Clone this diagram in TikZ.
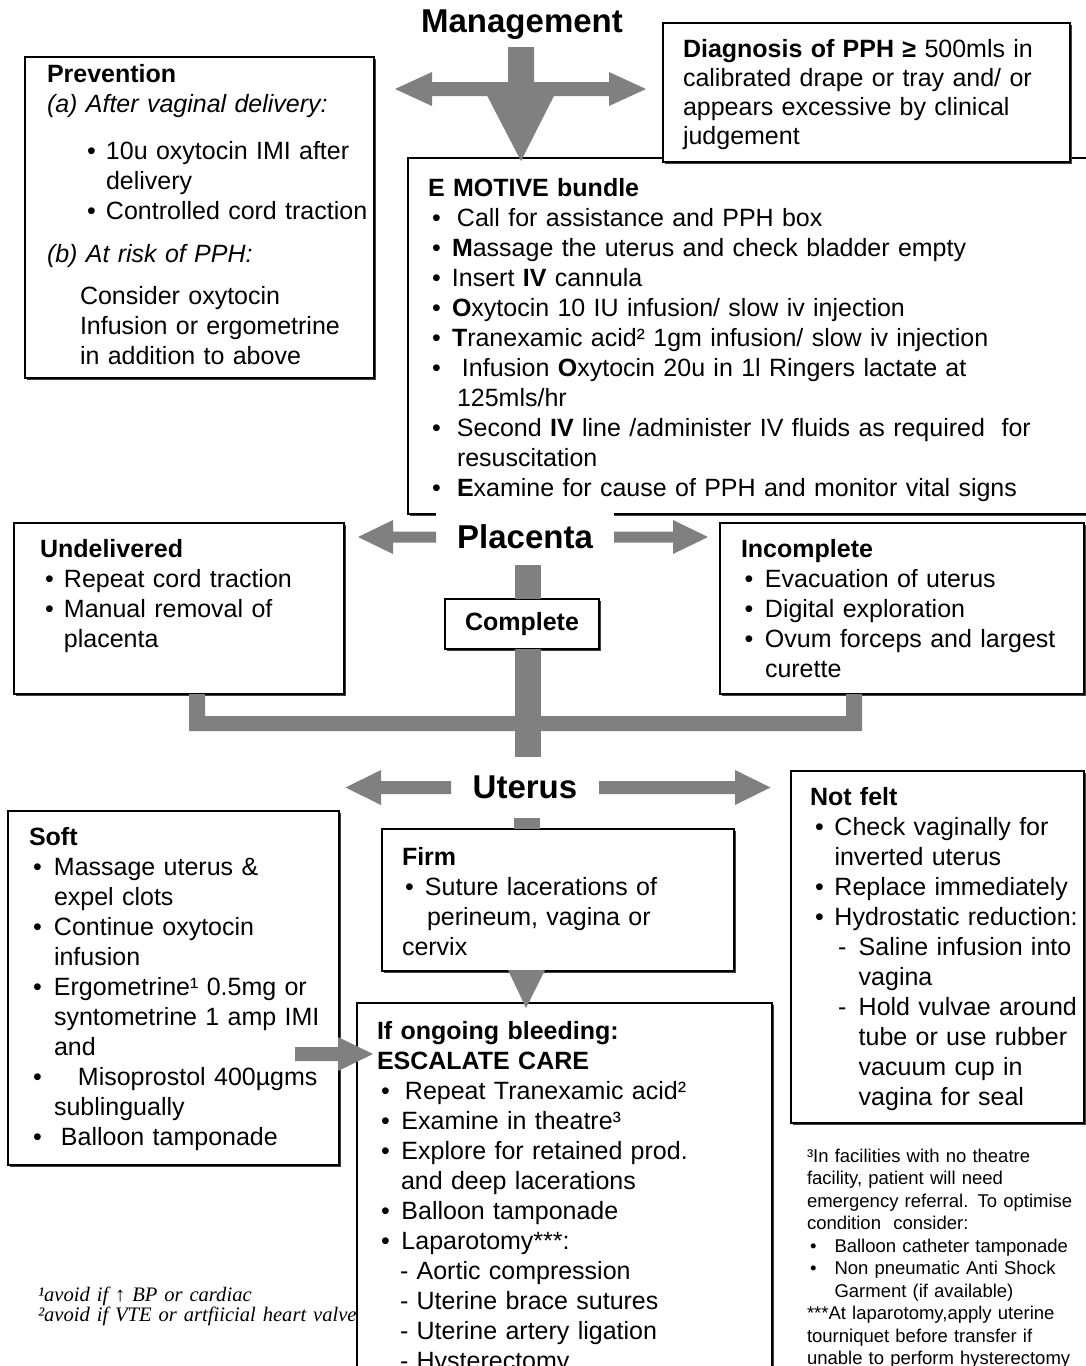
\documentclass[tikz,border=0pt]{standalone}
\usepackage{fontspec}
\setmainfont{Liberation Sans}
\newfontfamily\notefont{Liberation Serif}
\usetikzlibrary{shadows,calc}
\definecolor{arrgray}{RGB}{128,128,128}
\newcommand{\mybul}[2]{\hspace*{#1pt}\makebox[#2pt][l]{•}}
\newcommand{\myind}[1]{\hspace*{#1pt}}
\begin{document}
\begin{tikzpicture}[x=1pt,y=-1pt,
  sbox/.style={draw=black, line width=1.8pt, fill=white, inner sep=0pt, outer sep=0pt, anchor=north west,
    drop shadow={shadow xshift=2pt, shadow yshift=-2pt, fill=black!75, opacity=1}},
  txt/.style={anchor=base west, inner sep=0pt, outer sep=0pt, text width=680pt, align=left,
    font=\fontsize{25}{30}\selectfont},
  hub/.style={fill=white, inner sep=0pt, outer sep=0pt, font=\fontsize{33}{40}\selectfont\bfseries},
  arr/.style={fill=arrgray}
]
\useasboundingbox (0,0) rectangle (1086,1366);
\clip (0,0) rectangle (1086,1366);
\fill[white] (0,0) rectangle (1086,1366);

% footnotes 1,2 (partly hidden by the escalate box)
\node[txt, font=\notefont\itshape\fontsize{20.6}{20}\selectfont] (tnote12) at (38,1301)
  {¹avoid if ↑ BP or cardiac\\ ²avoid if VTE or artfiicial heart valves};

% boxes
\node[sbox, minimum width=692pt, minimum height=356pt] (emot) at (408,158) {};
\node[sbox, minimum width=407pt, minimum height=139pt] (diag) at (663,23) {};
\node[sbox, minimum width=349pt, minimum height=321pt] (prev) at (25,57) {};
\node[sbox, minimum width=330pt, minimum height=171pt] (undel) at (14,523) {};
\node[sbox, minimum width=364pt, minimum height=171pt] (incompl) at (720,523) {};
\node[sbox, anchor=center, minimum width=154pt, minimum height=50pt,
  font=\fontsize{25}{30}\selectfont\bfseries] (compl) at (522,624) {Complete};
\node[hub, minimum width=178pt, minimum height=56pt] (plac) at (525,537) {Placenta};
\node[hub, minimum width=148pt, minimum height=61pt] (uter) at (525,787.5) {Uterus};
\node[sbox, minimum width=331pt, minimum height=354pt] (soft) at (8,811) {};
\node[sbox, minimum width=352pt, minimum height=142pt] (firm) at (382,829) {};
\node[sbox, minimum width=293pt, minimum height=352pt] (notfelt) at (791,771) {};
\node[sbox, minimum width=415pt, minimum height=380pt] (escal) at (357,1003) {};

% title
\node[anchor=base, inner sep=0pt, font=\fontsize{33}{40}\selectfont\bfseries] (mgmt) at (522,32) {Management};

% texts
\node[txt] (tprev) at (47,82) {\textbf{Prevention}\\
\textit{(a) After vaginal delivery:}\\[17pt]
\mybul{40}{19}10u oxytocin IMI after\\
\myind{59}delivery\\
\mybul{40}{19}Controlled cord traction\\[13pt]
\textit{(b) At risk of PPH:}\\[12pt]
\myind{33}Consider oxytocin\\
\myind{33}Infusion or ergometrine\\
\myind{33}in addition to above};

\node[txt, font=\fontsize{25}{29}\selectfont] (tdiag) at (683,57) {\textbf{Diagnosis of PPH ≥} 500mls in\\
calibrated drape or tray and/ or\\
appears excessive by clinical\\
judgement};

\node[txt] (temot) at (428,196) {\textbf{E MOTIVE bundle}\\
\mybul{4}{25}Call for assistance and PPH box\\
\mybul{4}{20}\textbf{M}assage the uterus and check bladder empty\\
\mybul{4}{20}Insert \textbf{IV} cannula\\
\mybul{4}{20}\textbf{O}xytocin 10 IU infusion/ slow iv injection\\
\mybul{4}{20}\textbf{T}ranexamic acid² 1gm infusion/ slow iv injection\\
\mybul{4}{30}Infusion \textbf{O}xytocin 20u in 1l Ringers lactate at\\
\myind{29}125mls/hr\\
\mybul{4}{25}Second \textbf{IV} line /administer IV fluids as required~ for\\
\myind{29}resuscitation\\
\mybul{4}{25}\textbf{E}xamine for cause of PPH and monitor vital signs};

\node[txt] (tundel) at (40,557) {\textbf{Undelivered}\\
\mybul{5}{19}Repeat cord traction\\
\mybul{5}{19}Manual removal of\\
\myind{24}placenta};

\node[txt] (tincompl) at (741,557) {\textbf{Incomplete}\\
\mybul{3.5}{20.5}Evacuation of uterus\\
\mybul{3.5}{20.5}Digital exploration\\
\mybul{3.5}{20.5}Ovum forceps and largest\\
\myind{24}curette};

\node[txt] (tsoft) at (29,845) {\textbf{Soft}\\
\mybul{4}{21}Massage uterus \&\\
\myind{25}expel clots\\
\mybul{4}{21}Continue oxytocin\\
\myind{25}infusion\\
\mybul{4}{21}Ergometrine¹ 0.5mg or\\
\myind{25}syntometrine 1 amp IMI\\
\myind{25}and\\
\mybul{4}{45}Misoprostol 400µgms\\
\myind{25}sublingually\\
\mybul{4}{28}Balloon tamponade};

\node[txt] (tfirm) at (402,865) {\textbf{Firm}\\
\mybul{3}{20}Suture lacerations of\\
\myind{25}perineum, vagina or\\
cervix};

\node[txt] (tescal) at (377,1039) {\textbf{If ongoing bleeding:}\\
\textbf{ESCALATE CARE}\\
\mybul{4}{24}Repeat Tranexamic acid²\\
\mybul{4}{20.5}Examine in theatre³\\
\mybul{4}{20.5}Explore for retained prod.\\
\myind{24}and deep lacerations\\
\mybul{4}{20.5}Balloon tamponade\\
\mybul{4}{20.5}Laparotomy***:\\
\myind{23}- Aortic compression\\
\myind{23}- Uterine brace sutures\\
\myind{23}- Uterine artery ligation\\
\myind{23}- Hysterectomy};

\node[txt] (tnotfelt) at (810,805) {\textbf{Not felt}\\
\mybul{5}{19.5}Check vaginally for\\
\myind{24.5}inverted uterus\\
\mybul{5}{19.5}Replace immediately\\
\mybul{5}{19.5}Hydrostatic reduction:\\
\myind{28}\makebox[20.7pt][l]{-}Saline infusion into\\
\myind{48.7}vagina\\
\myind{28}\makebox[20.7pt][l]{-}Hold vulvae around\\
\myind{48.7}tube or use rubber\\
\myind{48.7}vacuum cup in\\
\myind{48.7}vagina for seal};

\node[txt, font=\fontsize{18.5}{22.5}\selectfont] (tnote3) at (807,1162) {³In facilities with no theatre\\
facility, patient will need\\
emergency referral. To optimise\\
condition~ consider:\\
\mybul{3}{24.5}Balloon catheter tamponade\\
\mybul{3}{24.5}Non pneumatic Anti Shock\\
\myind{27.5}Garment (if available)\\
\mbox{***}At laparotomy,apply uterine\\
tourniquet before transfer if\\
unable to perform hysterectomy};

% ---- gray block arrows ----
% Management
\fill[arr] (508,47) -- (534,47) -- (534,82) -- (561,82) -- (521,161) -- (480,82) -- (508,82) -- cycle;
\fill[arr] (395,89) -- (432,72) -- (432,82) -- (609,82) -- (609,72) -- (646,89) -- (609,106)
  -- (609,96) -- (432,96) -- (432,106) -- cycle;
% Placenta
\fill[arr] (plac.west) ++(0,5.5) -- ++(-43,0) -- ++(0,11.5) -- ++(-35,-17) -- ++(35,-17)
  -- ++(0,11.5) -- ++(43,0) -- cycle;
\fill[arr] (plac.east) ++(0,5.5) -- ++(59,0) -- ++(0,11.5) -- ++(35,-17) -- ++(-35,-17)
  -- ++(0,11.5) -- ++(-59,0) -- cycle;
\fill[arr] ([xshift=-10pt]plac.south) rectangle ([xshift=19pt]compl.north);
\fill[arr] ([xshift=-7pt]compl.south) rectangle ([xshift=16pt]uter.north);
% bracket
\fill[arr] (189,694) -- (205,694) -- (205,716) -- (846,716) -- (846,694) -- (862,694)
  -- (862,731) -- (189,731) -- cycle;
% Uterus
\fill[arr] (uter.west) ++(0,6.5) -- ++(-70,0) -- ++(0,11) -- ++(-35.5,-17.5) -- ++(35.5,-17.5)
  -- ++(0,11) -- ++(70,0) -- cycle;
\fill[arr] (uter.east) ++(0,6.5) -- ++(136,0) -- ++(0,11) -- ++(35.5,-17.5) -- ++(-35.5,-17.5)
  -- ++(0,11) -- ++(-136,0) -- cycle;
\fill[arr] ([xshift=-11pt]uter.south) rectangle ([xshift=-18pt]firm.north);
% Firm -> escalate
\coordinate (firmtip) at (526,1008);
\fill[arr] ([xshift=-50pt,yshift=1pt]firm.south) -- ([xshift=-13pt,yshift=1pt]firm.south) -- (firmtip) -- cycle;
% Soft -> escalate
\coordinate (softtip) at (373,1054);
\fill[arr] (295,1047) -- (338,1047) -- (338,1037) -- (softtip) -- (338,1071) -- (338,1061)
  -- (295,1061) -- cycle;
\end{tikzpicture}
\end{document}
